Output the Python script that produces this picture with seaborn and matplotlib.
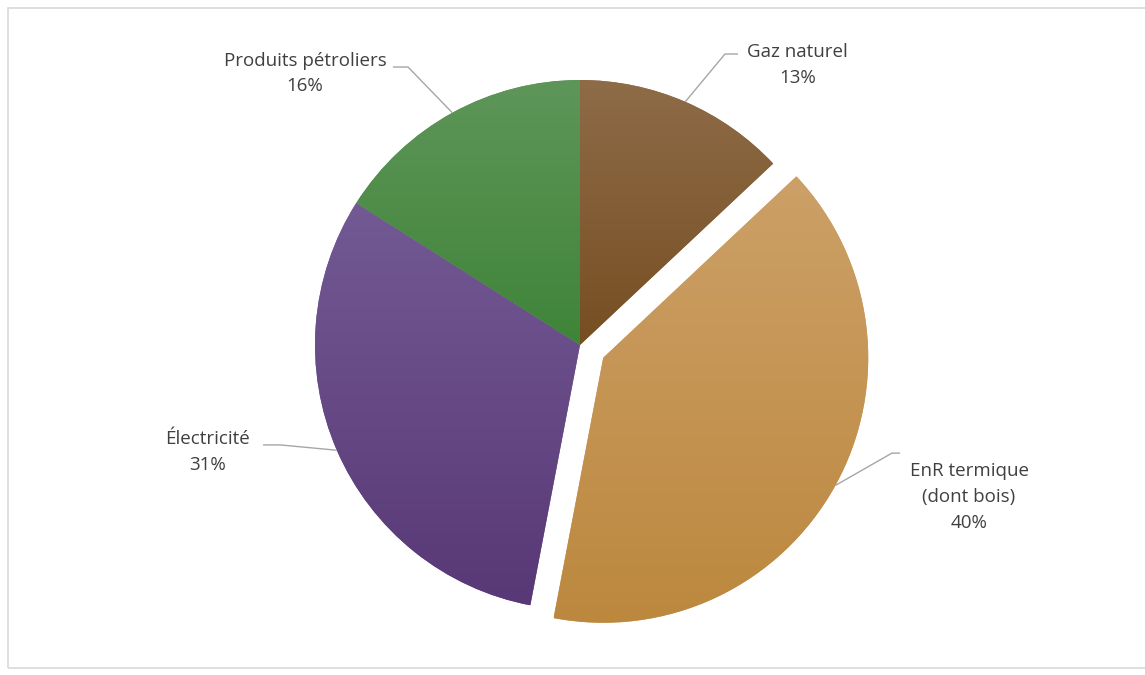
import numpy as np
import matplotlib
matplotlib.use("Agg")
import matplotlib.pyplot as plt
import matplotlib.colors as mcolors
from matplotlib.patches import Rectangle
import seaborn as sns

# data
categories = ["Gaz naturel", "EnR termique\n(dont bois)", "Électricité", "Produits pétroliers"]
shares = [13, 40, 31, 16]
explode = [0, 0.1, 0, 0]
# gradient colours (top, bottom) per slice
colors_top = ["#8E6C48", "#CCA067", "#735A94", "#5E9659"]
colors_bottom = ["#774E22", "#BC883E", "#583876", "#3F8439"]

# label layout (pie radius = 1)
label_pos = [(0.82, 1.057), (1.468, -0.574), (-1.404, -0.404), (-1.038, 1.024)]
elbow_pos = [(0.547, 1.098), (1.177, -0.408), (-1.132, -0.377), (-0.649, 1.049)]
stub_end = [0.596, 1.208, -1.196, -0.706]

sns.set_theme(style="white")
plt.rcParams["font.family"] = ["Open Sans", "DejaVu Sans"]

R = 265.0  # pixels per unit radius
fig = plt.figure(figsize=(11.45, 6.75), dpi=100)
ax = fig.add_axes([0, 0, 1, 1])

wedges, _ = ax.pie(shares, explode=explode, startangle=90, counterclock=False,
                   colors=colors_top, radius=1, wedgeprops=dict(linewidth=0))

# vertical gradient fill inside each slice
for w, ct, cb in zip(wedges, colors_top, colors_bottom):
    bb = w.get_path().get_extents()
    c0 = np.array(mcolors.to_rgb(ct))
    c1 = np.array(mcolors.to_rgb(cb))
    t = np.linspace(0, 1, 256)[:, None, None]
    img = c0[None, None, :] * (1 - t) + c1[None, None, :] * t
    im = ax.imshow(img, extent=[bb.x0, bb.x1, bb.y0, bb.y1], origin="upper",
                   aspect="auto", interpolation="bilinear", zorder=w.get_zorder() + 0.1)
    im.set_clip_path(w)

# labels and leader lines
total = sum(shares)
for i, (w, name, val) in enumerate(zip(wedges, categories, shares)):
    ang = np.deg2rad((w.theta1 + w.theta2) / 2)
    cx, cy = w.center
    px, py = cx + np.cos(ang) * 1.0, cy + np.sin(ang) * 1.0
    ex, ey = elbow_pos[i]
    ax.plot([px, ex, stub_end[i]], [py, ey, ey], color="#A6A6A6", lw=1, zorder=5,
            solid_capstyle="butt")
    lx, ly = label_pos[i]
    ax.text(lx, ly, f"{name}\n{round(val / total * 100)}%", ha="center", va="center",
            fontsize=13.5, color="#404040", linespacing=1.55, zorder=6)

ax.set_xlim(-580 / R, 565 / R)
ax.set_ylim(-330 / R, 345 / R)
ax.set_aspect("auto")
ax.axis("off")

# light chart frame
fig.patches.append(Rectangle((8 / 1145, 7 / 675), 1.0, 660 / 675, transform=fig.transFigure,
                             fill=False, edgecolor="#D9D9D9", lw=1.2))

fig.savefig("out.png", dpi=100)
